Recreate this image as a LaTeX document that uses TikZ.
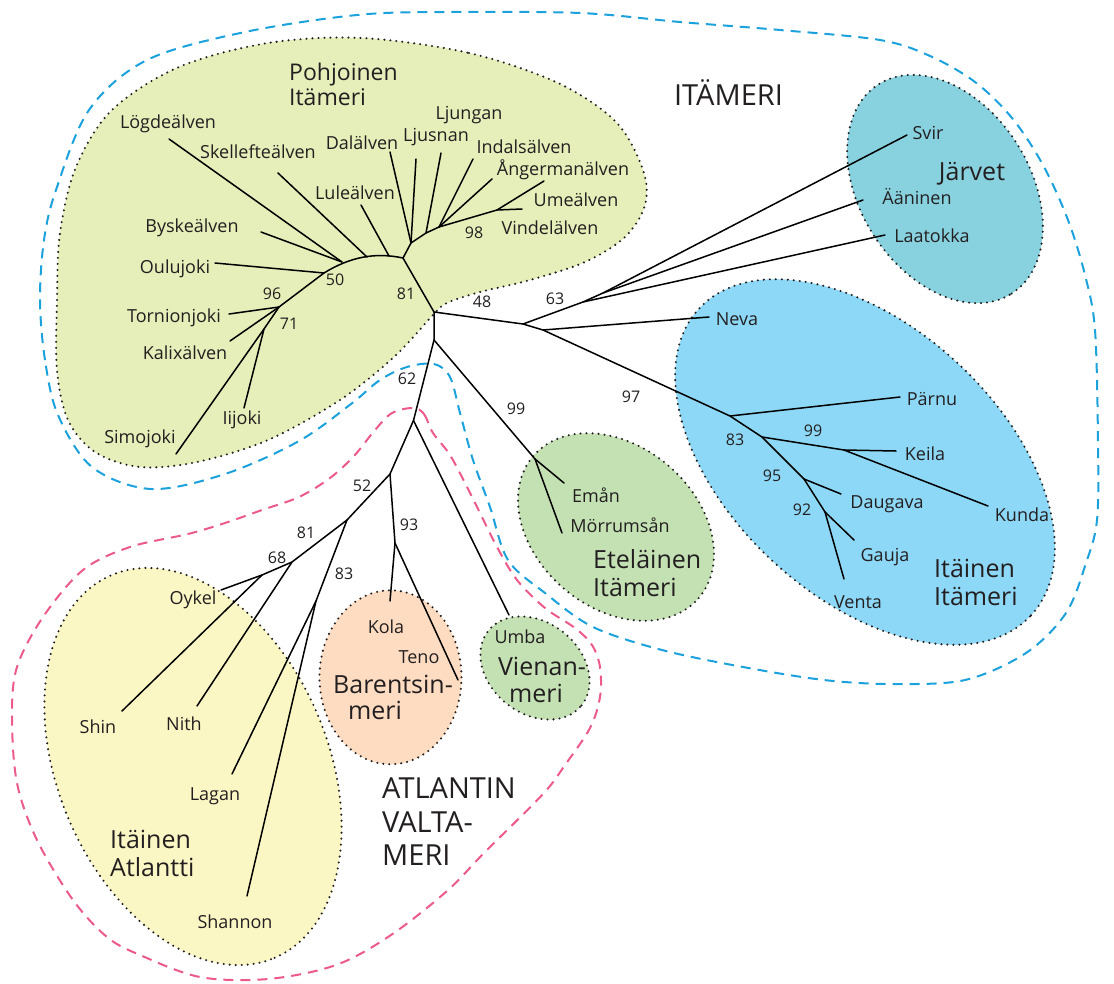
\documentclass[tikz,border=0pt]{standalone}
\usepackage{fontspec}
\setmainfont{Open Sans}
\definecolor{txt}{HTML}{231F20}
\definecolor{pohj}{HTML}{E6EEB9}
\definecolor{jarv}{HTML}{88D2E0}
\definecolor{itaita}{HTML}{8DD8F6}
\definecolor{grn}{HTML}{C4E1B4}
\definecolor{bar}{HTML}{FDDCC1}
\definecolor{atl}{HTML}{FBF7C5}
\definecolor{bluedash}{HTML}{1BA1DB}
\definecolor{pinkdash}{HTML}{EC5A8B}
\begin{document}
\begin{tikzpicture}[x=1pt,y=-1pt,
  tree/.style={line width=1.5pt, line cap=round, line join=round, draw=black},
  lbl/.style={inner sep=0pt, font=\fontsize{18}{20}\selectfont, text=txt},
  num/.style={inner sep=0pt, font=\fontsize{16}{18}\selectfont, text=txt},
  big/.style={inner sep=0pt, font=\fontsize{25}{28}\selectfont, text=txt, align=left},
  bigger/.style={inner sep=0pt, font=\fontsize{29}{33.5}\selectfont, text=txt, align=left},
  dots/.style={draw=txt, line width=2.3pt, dash pattern=on 0pt off 6pt, line cap=round},
  bdash/.style={draw=bluedash, line width=2pt, dash pattern=on 10pt off 7pt},
  pdash/.style={draw=pinkdash, line width=2pt, dash pattern=on 10pt off 7pt}]
\useasboundingbox (0,0) rectangle (1114,983);

% ---------- regions ----------
\path[fill=pohj, dots] plot[smooth cycle, tension=0.55] coordinates {
 (362,38) (469,53) (558,83) (616,122) (643,170) (645,205) (625,237) (585,262)
 (530,280) (480,292) (447,303) (433,315) (394,357) (340,400) (268,440) (197,462)
 (140,467) (95,452) (68,420) (57,370) (57,300) (60,233) (76,167) (112,110)
 (179,67) (268,43)};
\path[fill=jarv, dots, rotate around={-57.5:(945,189)}] (945,189) ellipse [x radius=124pt, y radius=85pt];
\path[fill=itaita, dots, rotate around={-42.7:(865,462)}] (865,462) ellipse [x radius=226pt, y radius=135.5pt];
\path[fill=grn, dots, rotate around={-40.7:(616,527)}] (616,527) ellipse [x radius=109pt, y radius=80.7pt];
\path[fill=grn, dots, rotate around={-38.8:(535,668)}] (535,668) ellipse [x radius=59.7pt, y radius=45.6pt];
\path[fill=bar, dots] (390.5,677.3) ellipse [x radius=71pt, y radius=87pt];
\path[fill=atl, dots, rotate around={-66.9:(193,766.5)}] (193,766.5) ellipse [x radius=208pt, y radius=135pt];

% ---------- dashed outlines ----------
\draw[bdash] plot[smooth cycle, tension=0.55] coordinates {
 (58,415) (45,360) (40,300) (44,240) (56,190) (89,110) (147,60) (245,32) (357,15)
 (446,12) (580,13) (680,22) (780,30) (880,40) (930,56) (975,82) (1012,118)
 (1043,165) (1068,220) (1085,275) (1095,330) (1098,443) (1097,520) (1086,563)
 (1066,613) (1026,653) (965,680) (892,684) (824,680) (743,667) (662,650)
 (593,627) (545,593) (508,560) (490,507) (473,460) (460,413) (450,377)
 (434,364) (407,367) (380,380) (351,404) (299,441) (225,474) (151,489) (92,467)};
\draw[pdash] plot[smooth cycle, tension=0.55] coordinates {
 (413,408) (424,414) (433,433) (450,455) (467,487) (480,513) (497,547)
 (517,580) (545,608) (575,628) (592,645) (600,667) (600,697) (590,728)
 (565,765) (543,794) (484,853) (447,891) (391,935) (336,965) (268,979)
 (200,977) (140,955) (107,937) (73,900) (37,840) (17,783) (12,717) (17,667)
 (43,617) (83,570) (130,547) (188,534) (225,523) (262,510) (299,497)
 (330,478) (354,456) (375,430) (392,413)};

% ---------- tree coordinates ----------
\coordinate (R) at (434,312);
\coordinate (N1) at (403,258);
\coordinate (L1) at (389,256);
\coordinate (S1) at (367,257);
\coordinate (B1) at (342,262);
\coordinate (O1) at (324,273);
\coordinate (T1) at (279,307);
\coordinate (I1) at (264,329);
\coordinate (E1) at (411,243);
\coordinate (E2) at (426,233);
\coordinate (E3) at (439,227);
\coordinate (E98) at (497,210);
\coordinate (lLog) at (169,139);
\coordinate (lBys) at (261,232);
\coordinate (lSke) at (278,173);
\coordinate (lLul) at (361,205);
\coordinate (lOul) at (215,263);
\coordinate (lTor) at (229,314);
\coordinate (lKal) at (230,341);
\coordinate (lSim) at (176,454);
\coordinate (lIij) at (244,408);
\coordinate (lDal) at (390,152);
\coordinate (lLjs) at (416,159);
\coordinate (lLjg) at (441,153);
\coordinate (lInd) at (473,159);
\coordinate (lAng) at (492,179);
\coordinate (lUmeA) at (544,181);
\coordinate (lUmeB) at (522,209);
\coordinate (A63) at (523,324);
\coordinate (C1) at (583,302);
\coordinate (C2) at (603,293);
\coordinate (lSvir) at (907,135);
\coordinate (lAan) at (863,200);
\coordinate (lLaa) at (885,235);
\coordinate (K1) at (543,330);
\coordinate (lNeva) at (709,317);
\coordinate (P1) at (730,416);
\coordinate (lPar) at (900,397);
\coordinate (Q1) at (762,437);
\coordinate (K99) at (844,450);
\coordinate (lKei) at (896,451);
\coordinate (lKun) at (988,506);
\coordinate (D1) at (804,479);
\coordinate (lDau) at (841,494);
\coordinate (G1) at (825,512);
\coordinate (lGau) at (854,540);
\coordinate (lVen) at (844,579);
\coordinate (S0) at (434,340);
\coordinate (EM) at (535,459);
\coordinate (lEma) at (564,483);
\coordinate (lMor) at (562,533);
\coordinate (S62) at (413.5,420.5);
\coordinate (lUmb) at (509,615);
\coordinate (S52) at (390,474);
\coordinate (S93) at (395,543);
\coordinate (lKol) at (390,601);
\coordinate (lTen) at (458,680);
\coordinate (S81) at (347,520);
\coordinate (S68) at (292,562);
\coordinate (S83) at (316,601);
\coordinate (lLag) at (232,774);
\coordinate (lSha) at (247,896);
\coordinate (SO) at (262,575);
\coordinate (lOyk) at (221,590);
\coordinate (lShi) at (122,711);
\coordinate (lNit) at (197,706);

% ---------- tree ----------
\draw[tree] (R) -- (N1) .. controls (375,252) and (350,257) .. (O1) -- (T1) -- (I1) -- (lSim);
\draw[tree] (B1) -- (lLog);
\draw[tree] (B1) -- (lBys);
\draw[tree] (S1) -- (lSke);
\draw[tree] (L1) -- (lLul);
\draw[tree] (O1) -- (lOul);
\draw[tree] (T1) -- (lTor);
\draw[tree] (T1) -- (lKal);
\draw[tree] (I1) -- (lIij);
\draw[tree] (N1) -- (E1) -- (lDal);
\draw[tree] (E1) -- (lLjs);
\draw[tree] (E1) -- (E2) -- (lLjg);
\draw[tree] (E2) -- (E3) -- (lInd);
\draw[tree] (E3) -- (lAng);
\draw[tree] (E3) -- (E98) -- (lUmeA);
\draw[tree] (E98) -- (lUmeB);
\draw[tree] (R) -- (A63) -- (C1) -- (C2) -- (lSvir);
\draw[tree] (C2) -- (lAan);
\draw[tree] (C1) -- (lLaa);
\draw[tree] (A63) -- (K1) -- (lNeva);
\draw[tree] (K1) -- (P1) -- (lPar);
\draw[tree] (P1) -- (Q1) -- (K99) -- (lKei);
\draw[tree] (K99) -- (lKun);
\draw[tree] (Q1) -- (D1) -- (lDau);
\draw[tree] (D1) -- (G1) -- (lGau);
\draw[tree] (G1) -- (lVen);
\draw[tree] (R) -- (S0) -- (EM) -- (lEma);
\draw[tree] (EM) -- (lMor);
\draw[tree] (S0) -- (S62) -- (lUmb);
\draw[tree] (S62) -- (S52) -- (S93) -- (lKol);
\draw[tree] (S93) -- (lTen);
\draw[tree] (S52) -- (S81) -- (S68) -- (SO) -- (lOyk);
\draw[tree] (SO) -- (lShi);
\draw[tree] (S68) -- (lNit);
\draw[tree] (S81) -- (S83) -- (lLag);
\draw[tree] (S83) -- (lSha);

% ---------- leaf labels ----------
\node[lbl] (tLog) at (168,124) {Lögdeälven};
\node[lbl] (tSke) at (258,152) {Skellefteälven};
\node[lbl] (tDal) at (362,143) {Dalälven};
\node[lbl] (tLjs) at (436,137) {Ljusnan};
\node[lbl] (tLjg) at (469,115) {Ljungan};
\node[lbl] (tInd) at (524,147) {Indalsälven};
\node[lbl] (tAng) at (563,170) {Ångermanälven};
\node[lbl] (tUme) at (576,200) {Umeälven};
\node[lbl] (tVin) at (550,228) {Vindelälven};
\node[lbl] (tLul) at (355,193) {Luleälven};
\node[lbl] (tBys) at (192,228) {Byskeälven};
\node[lbl] (tOul) at (175,269) {Oulujoki};
\node[lbl] (tTor) at (174,318) {Tornionjoki};
\node[lbl] (tKal) at (185,353) {Kalixälven};
\node[lbl] (tIij) at (242,420) {Iijoki};
\node[lbl] (tSim) at (140,439) {Simojoki};
\node[lbl] (tSvir) at (928,133) {Svir};
\node[lbl] (tAan) at (917,197) {Ääninen};
\node[lbl] (tLaa) at (932,236) {Laatokka};
\node[lbl] (tNeva) at (737,319) {Neva};
\node[lbl] (tPar) at (932,399) {Pärnu};
\node[lbl] (tKei) at (925,454) {Keila};
\node[lbl] (tKun) at (1022,515) {Kunda};
\node[lbl] (tDau) at (887,504) {Daugava};
\node[lbl] (tGau) at (885,557) {Gauja};
\node[lbl] (tVen) at (858,602) {Venta};
\node[lbl] (tEma) at (596,495) {Emån};
\node[lbl] (tMor) at (620,525) {Mörrumsån};
\node[lbl] (tKol) at (386,627) {Kola};
\node[lbl] (tTen) at (419,657) {Teno};
\node[lbl] (tUmb) at (520,637) {Umba};
\node[lbl] (tOyk) at (193,600) {Oykel};
\node[lbl] (tShi) at (98,727) {Shin};
\node[lbl] (tNit) at (184,724) {Nith};
\node[lbl] (tLag) at (215,796) {Lagan};
\node[lbl] (tSha) at (235,922) {Shannon};

% ---------- support values ----------
\node[num] (n50) at (335,280) {50};
\node[num] (n96) at (272,294) {96};
\node[num] (n71) at (289,324) {71};
\node[num] (n81a) at (406,294) {81};
\node[num] (n98) at (474,233) {98};
\node[num] (n48) at (482,302) {48};
\node[num] (n63) at (555,299) {63};
\node[num] (n97) at (631,397) {97};
\node[num] (n83a) at (735,440) {83};
\node[num] (n99a) at (813,431) {99};
\node[num] (n95) at (772,476) {95};
\node[num] (n92) at (802,510) {92};
\node[num] (n99b) at (516,409) {99};
\node[num] (n62) at (407,379) {62};
\node[num] (n52) at (362,486) {52};
\node[num] (n93) at (409,525) {93};
\node[num] (n81b) at (306,533) {81};
\node[num] (n68) at (277,558) {68};
\node[num] (n83b) at (344,574) {83};

% ---------- region names ----------
\node[big, anchor=west, font=\fontsize{23}{25}\selectfont] (tPohj) at (289,84.5) {Pohjoinen\\Itämeri};
\node[big] (tJarv) at (972,174) {Järvet};
\node[big, anchor=west] (tItaI) at (934,582.5) {Itäinen\\Itämeri};
\node[big, anchor=west] (tEtel) at (593,573.5) {Eteläinen\\Itämeri};
\node[big, anchor=west] (tItaA) at (110,853) {Itäinen\\Atlantti};
\node[big] (tBar1) at (393,684) {Barentsin-};
\node[big] (tBar2) at (375,710) {meri};
\node[big] (tVie1) at (542,666) {Vienan-};
\node[big] (tVie2) at (536,693) {meri};
\node[bigger] (tItam) at (728.5,92.5) {ITÄMERI};
\node[bigger, anchor=west] (tAtl) at (382,822) {ATLANTIN\\VALTA-\\MERI};
\end{tikzpicture}
\end{document}
